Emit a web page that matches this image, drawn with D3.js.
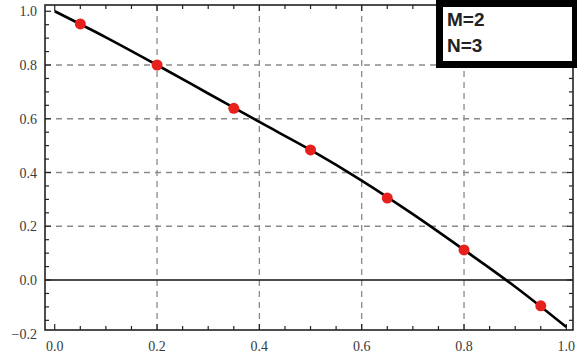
<!DOCTYPE html>
<html>
<head>
<meta charset="utf-8">
<script src="https://cdn.jsdelivr.net/npm/d3@7"></script>
<style>
	body { margin: 0; background: #fff; }
	svg { display: block; }
</style>
</head>
<body>
<div id="chart"></div>
<script>
// curve
var curveX = [0.0, 0.1, 0.2, 0.3, 0.4, 0.5, 0.6, 0.7, 0.8, 0.9, 1.0];
var curveY = [1.0, 0.903, 0.80, 0.694, 0.588, 0.484, 0.37, 0.245, 0.112, -0.025, -0.175];

// red sample points
var pointX = [0.05, 0.2, 0.35, 0.5, 0.65, 0.8, 0.95];
var pointY = [0.953, 0.80, 0.639, 0.484, 0.305, 0.112, -0.096];

var xTicks = [0.0, 0.2, 0.4, 0.6, 0.8, 1.0];
var yTicks = [-0.2, 0.0, 0.2, 0.4, 0.6, 0.8, 1.0];
var gridX = [0.2, 0.4, 0.6, 0.8];
var gridY = [0.2, 0.4, 0.6, 0.8];
var legendLines = ["M=2", "N=3"];

function drawChart(){
	var w = 577, h = 358;
	var pl = 45, pr = 573, pt = 5, pb = 330;

	var svg = d3.select("#chart").append("svg").attr("width", w).attr("height", h);

	var x = d3.scaleLinear().domain([-0.019, 1.013]).range([pl, pr]);
	var y = d3.scaleLinear().domain([-0.186, 1.0233]).range([pb, pt]);

	// dashed grid
	svg.append("g").selectAll("line").data(gridX).enter().append("line")
		.attr("x1", function(d){ return x(d); }).attr("x2", function(d){ return x(d); })
		.attr("y1", pt).attr("y2", pb)
		.attr("stroke", "#8a8a8a").attr("stroke-width", 1.3).attr("stroke-dasharray", "6,5");
	svg.append("g").selectAll("line").data(gridY).enter().append("line")
		.attr("y1", function(d){ return y(d); }).attr("y2", function(d){ return y(d); })
		.attr("x1", pl).attr("x2", pr)
		.attr("stroke", "#8a8a8a").attr("stroke-width", 1.3).attr("stroke-dasharray", "6,5");

	// zero line
	svg.append("line")
		.attr("x1", pl).attr("x2", pr)
		.attr("y1", y(0)).attr("y2", y(0))
		.attr("stroke", "#111").attr("stroke-width", 1.4);

	// inward ticks on all four sides
	var minorX = d3.range(0, 1.0001, 0.05), minorY = d3.range(-0.15, 1.0001, 0.05);
	function isMajor(v){ return Math.abs(v * 5 - Math.round(v * 5)) < 1e-6; }
	var tk = svg.append("g").attr("stroke", "#222").attr("stroke-width", 1.2);
	minorX.forEach(function(v){
		var len = isMajor(v) ? 6 : 4;
		tk.append("line").attr("x1", x(v)).attr("x2", x(v)).attr("y1", pb).attr("y2", pb - len);
		tk.append("line").attr("x1", x(v)).attr("x2", x(v)).attr("y1", pt).attr("y2", pt + len);
	});
	minorY.forEach(function(v){
		var len = isMajor(v) ? 6 : 4;
		tk.append("line").attr("y1", y(v)).attr("y2", y(v)).attr("x1", pl).attr("x2", pl + len);
		tk.append("line").attr("y1", y(v)).attr("y2", y(v)).attr("x1", pr).attr("x2", pr - len);
	});

	// frame
	svg.append("rect")
		.attr("x", pl).attr("y", pt).attr("width", pr - pl).attr("height", pb - pt)
		.attr("fill", "none").attr("stroke", "#222").attr("stroke-width", 1.6);

	// tick labels
	var fmt = d3.format(".1f");
	svg.append("g").selectAll("text").data(xTicks).enter().append("text")
		.attr("x", function(d){ return x(d); }).attr("y", 351)
		.attr("text-anchor", "middle")
		.attr("font-family", "Liberation Serif, serif").attr("font-size", 14).attr("fill", "#3a3a3a")
		.text(function(d){ return fmt(d); });
	svg.append("g").selectAll("text").data(yTicks).enter().append("text")
		.attr("x", 37).attr("y", function(d){ return y(d) + 5; })
		.attr("text-anchor", "end")
		.attr("font-family", "Liberation Serif, serif").attr("font-size", 14).attr("fill", "#3a3a3a")
		.text(function(d){ return fmt(d).replace("-", "\u2212"); });

	// curve
	var curveData = curveX.map(function(d, i){ return {x: d, y: curveY[i]}; });
	var line = d3.line()
		.curve(d3.curveMonotoneX)
		.x(function(d){ return x(d.x); })
		.y(function(d){ return y(d.y); });
	svg.append("path")
		.datum(curveData)
		.attr("fill", "none").attr("stroke", "#000")
		.attr("stroke-width", 2.6)
		.attr("d", line);

	// points
	svg.append("g").selectAll("circle").data(pointX).enter().append("circle")
		.attr("cx", function(d){ return x(d); })
		.attr("cy", function(d, i){ return y(pointY[i]); })
		.attr("r", 5.5)
		.attr("fill", "#e8201c");

	// legend box
	svg.append("rect")
		.attr("x", 439.5).attr("y", 3.5).attr("width", 136).attr("height", 61)
		.attr("fill", "#fff").attr("stroke", "#000").attr("stroke-width", 7);
	svg.append("g").selectAll("text").data(legendLines).enter().append("text")
		.attr("x", 447).attr("y", function(d, i){ return 26 + i * 26; })
		.attr("font-family", "Liberation Sans, Arial, sans-serif").attr("font-size", 19)
		.attr("font-weight", "bold").attr("fill", "#222")
		.text(function(d){ return d; });
}

drawChart();
</script>
</body>
</html>
